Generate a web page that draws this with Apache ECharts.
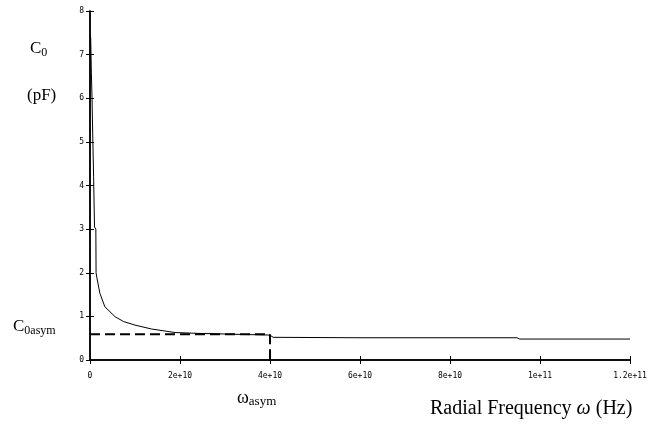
<!DOCTYPE html>
<html>
<head>
<meta charset="utf-8">
<script src="https://cdn.jsdelivr.net/npm/echarts@6/dist/echarts.min.js"></script>
<style>html,body{margin:0;padding:0;background:#fff}#c{width:657px;height:424px}</style>
</head>
<body>
<div id="c"></div>
<script>
// Data
var freqX = [0.15e9, 0.3e9, 0.45e9, 0.6e9, 0.8e9, 1.0e9, 1.3e9, 1.35e9, 1.5e9, 2.2e9, 3.3e9, 5.6e9, 7.5e9, 10e9, 13.7e9, 18.9e9, 24e9, 28.4e9, 34e9, 38.9e9, 40e9, 40.7e9, 60e9, 80e9, 94.9e9, 95.5e9, 120e9];
var capY  = [7.4, 6.6, 6.0, 5.2, 4.2, 3.05, 3.0, 2.0, 1.9, 1.53, 1.22, 0.99, 0.88, 0.80, 0.71, 0.63, 0.61, 0.60, 0.585, 0.575, 0.57, 0.52, 0.51, 0.51, 0.51, 0.48, 0.48];
var asymX = [0, 4e10, 4e10];
var asymY = [0.59, 0.59, 0];
var xTickLabels = ["0", "2e+10", "4e+10", "6e+10", "8e+10", "1e+11", "1.2e+11"];
var yTickLabels = ["0", "1", "2", "3", "4", "5", "6", "7", "8"];

var chart = echarts.init(document.getElementById('c'), null, {renderer: 'canvas'});
var curve = freqX.map(function (x, i) { return [x, capY[i]]; });
var dashed = asymX.map(function (x, i) { return [x, asymY[i]]; });
var tickFont = {fontFamily: 'DejaVu Sans Mono', fontSize: 8, color: '#000'};
var serif = 'Liberation Serif';

chart.setOption({
  animation: false,
  backgroundColor: '#fff',
  grid: {left: 90, right: 27, top: 11, bottom: 64, containLabel: false},
  xAxis: [{
    type: 'value', min: 0, max: 1.2e11, interval: 2e10,
    axisLine: {lineStyle: {color: '#000', width: 1.5}},
    axisTick: {inside: true, length: 4, lineStyle: {color: '#000'}},
    splitLine: {show: false},
    axisLabel: Object.assign({margin: 12, formatter: function (v) { return xTickLabels[Math.round(v / 2e10)]; }}, tickFont)
  }, {
    type: 'value', min: 0, max: 1.2e11, interval: 2e10, position: 'top',
    axisLine: {lineStyle: {color: '#000', width: 1.5}},
    axisTick: {inside: true, length: 4, lineStyle: {color: '#000'}},
    splitLine: {show: false}, axisLabel: {show: false}
  }],
  yAxis: [{
    type: 'value', min: 0, max: 8, interval: 1,
    axisLine: {show: true, lineStyle: {color: '#000', width: 1.5}},
    axisTick: {show: true, inside: true, length: 4, lineStyle: {color: '#000'}},
    splitLine: {show: false},
    axisLabel: Object.assign({margin: 6, formatter: function (v) { return yTickLabels[Math.round(v)]; }}, tickFont)
  }, {
    type: 'value', min: 0, max: 8, interval: 1, position: 'right',
    axisLine: {show: true, lineStyle: {color: '#000', width: 1.5}},
    axisTick: {show: true, inside: true, length: 4, lineStyle: {color: '#000'}},
    splitLine: {show: false}, axisLabel: {show: false}
  }],
  series: [{
    type: 'line', data: curve, showSymbol: false, symbol: 'none',
    lineStyle: {color: '#000', width: 1}
  }, {
    type: 'line', data: dashed, showSymbol: false, symbol: 'none',
    lineStyle: {color: '#000', width: 2, type: [10, 5]}
  }],
  graphic: [
    {type: 'text', left: 30, top: 40, style: {
      text: '{m|C}{s|0}', fill: '#000',
      rich: {m: {fontFamily: serif, fontSize: 17, fill: '#000'}, s: {fontFamily: serif, fontSize: 12, padding: [8, 0, 0, 0], fill: '#000'}}
    }},
    {type: 'text', left: 27, top: 87, style: {text: '(pF)', font: '17px ' + serif, fill: '#000'}},
    {type: 'text', left: 13, top: 318, style: {
      text: '{m|C}{s|0asym}', fill: '#000',
      rich: {m: {fontFamily: serif, fontSize: 17, fill: '#000'}, s: {fontFamily: serif, fontSize: 12, padding: [8, 0, 0, 0], fill: '#000'}}
    }},
    {type: 'text', left: 237, top: 389, style: {
      text: '{m|ω}{s|asym}', fill: '#000',
      rich: {m: {fontFamily: serif, fontSize: 18, fill: '#000'}, s: {fontFamily: serif, fontSize: 13, padding: [8, 0, 0, 0], fill: '#000'}}
    }},
    {type: 'text', left: 430, top: 399, style: {
      text: '{m|Radial Frequency }{i|ω}{m| (Hz)}', fill: '#000',
      rich: {m: {fontFamily: serif, fontSize: 20, fill: '#000'}, i: {fontFamily: serif, fontSize: 20, fontStyle: 'italic', fill: '#000'}}
    }}
  ]
});
</script>
</body>
</html>
